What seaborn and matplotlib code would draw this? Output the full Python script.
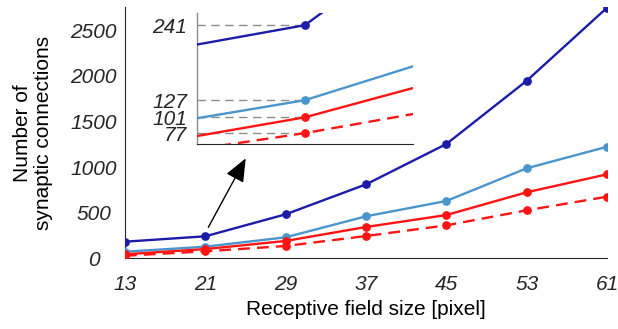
import numpy as np
import pandas as pd
import matplotlib
matplotlib.use("Agg")
import matplotlib.pyplot as plt
import seaborn as sns

# ---- data ----
field_sizes = [13, 21, 29, 37, 45, 53, 61]
series_a = [182, 241, 482, 810, 1252, 1945, 2745]   # dark blue
series_b = [72, 127, 230, 460, 628, 986, 1222]      # light blue
series_c = [44, 101, 190, 343, 474, 723, 920]       # red solid
series_d = [28, 77, 135, 244, 361, 526, 675]        # red dashed
inset_ticks = [77, 101, 127, 241]
x_ticks = [13, 21, 29, 37, 45, 53, 61]
y_ticks = [0, 500, 1000, 1500, 2000, 2500]

sns.set_theme(style="white")
plt.rcParams['font.family'] = ['Liberation Sans', 'DejaVu Sans']

C_DB = "#1c1ca8"
C_LB = "#4a96cc"
C_R = "#ff1414"

fig = plt.figure(figsize=(6.18, 3.29), dpi=100)
ax = fig.add_axes([125/618, (329-258.3)/329, 482/618, 251/329])

def draw(axx, ms):
    specs = [(series_a, C_DB, "-"), (series_b, C_LB, "-"),
             (series_c, C_R, "-"), (series_d, C_R, "dash")]
    for vals, col, ls in specs:
        df = pd.DataFrame({"x": field_sizes, "y": vals})
        sns.lineplot(data=df, x="x", y="y", ax=axx, color=col, linewidth=1.7,
                     marker="o", markersize=ms, markeredgewidth=0, zorder=3)
        if ls == "dash":
            axx.lines[-1].set_dashes([5, 3])

draw(ax, 6.3)
ax.set_xlim(13, 61)
ax.set_ylim(0, 2750)
ax.set_xticks(x_ticks)
ax.set_yticks(y_ticks)
ax.set_xticklabels([str(t) for t in x_ticks], fontsize=15, style="italic", color="#262626")
ax.set_yticklabels([str(t) for t in y_ticks], fontsize=15, style="italic", color="#262626",
                   ha="center")
ax.tick_params(axis="x", direction="in", length=4, pad=12, color="#262626")
ax.tick_params(axis="y", direction="in", length=4, pad=22.5, color="#262626")
for s in ["top", "right"]:
    ax.spines[s].set_visible(False)
for s in ["left", "bottom"]:
    ax.spines[s].set_color("#262626")
    ax.spines[s].set_linewidth(0.8)
ax.set_xlabel("Receptive field size [pixel]", fontsize=15, color="black")
ax.set_ylabel("Number of\nsynaptic connections", fontsize=15, color="black",
              linespacing=1.15)
ax.xaxis.set_label_coords(0.5, -0.168)
ax.yaxis.set_label_coords(-0.149, 0.5)

ax.annotate("", xy=(25.02, 1095), xytext=(21.3, 340),
            arrowprops=dict(arrowstyle="-|>,head_length=1.2,head_width=0.5",
                            color="black", lw=1.0, shrinkA=0, shrinkB=0))

# ---- inset ----
axi = fig.add_axes([196.7/618, (329-144.3)/329, (413-196.7)/618, (144.3-12.7)/329])
axi.patch.set_alpha(0)
for t in inset_ticks:
    axi.plot([17, 21], [t, t], color="#8c8c8c", lw=1.0, dashes=[6, 4], zorder=1)
draw(axi, 6.3)
axi.set_xlim(17, 25)
axi.set_ylim(60, 260)
axi.set_xticks([])
axi.set_yticks(inset_ticks)
axi.set_yticklabels([str(t) for t in inset_ticks], fontsize=15, style="italic",
                    color="#262626")
axi.tick_params(axis="y", direction="in", length=4, pad=7, color="#8c8c8c")
axi.set_xlabel("")
axi.set_ylabel("")
for s in ["top", "right"]:
    axi.spines[s].set_visible(False)
axi.spines["left"].set_color("#8c8c8c")
axi.spines["bottom"].set_color("#262626")
axi.spines["left"].set_linewidth(1.0)
axi.spines["bottom"].set_linewidth(0.8)

fig.savefig("out.png", dpi=100)
